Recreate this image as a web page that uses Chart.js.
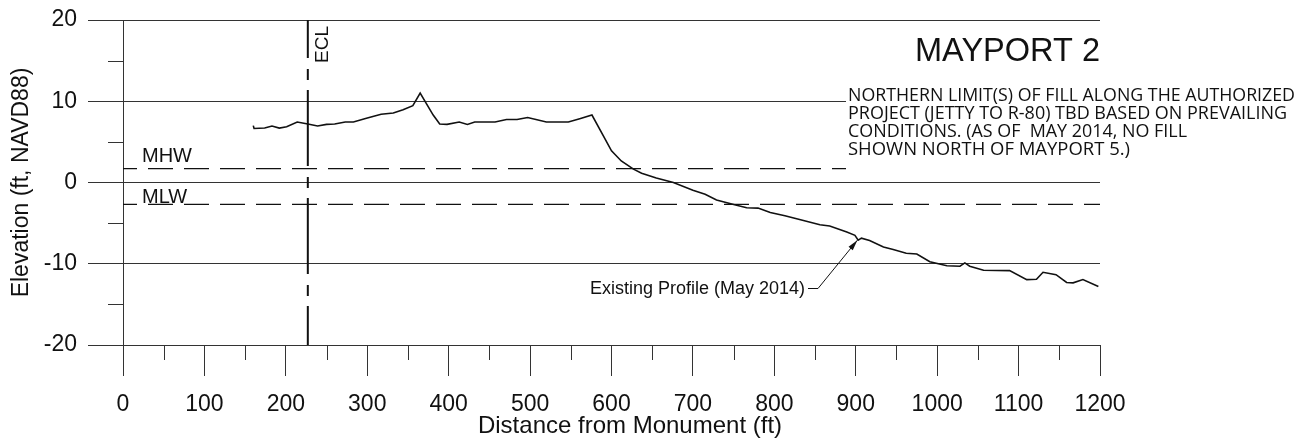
<!DOCTYPE html>
<html>
<head>
<meta charset="utf-8">
<title>Mayport 2</title>
<script src="https://cdn.jsdelivr.net/npm/chart.js@4.4.0/dist/chart.umd.min.js"></script>
<style>
  html, body { margin: 0; padding: 0; background: #fff; }
  #wrap { width: 1312px; height: 447px; }
</style>
</head>
<body>
<div id="wrap"><canvas id="profileChart" width="1312" height="447"></canvas></div>
<script>
// profile (May 2014)
const distance = [160, 161, 174, 183, 192, 201, 214, 227, 239, 250, 260, 273, 283, 299, 317, 332, 344, 356, 365, 373, 381, 389,
  398, 413, 423, 432, 457, 471, 484, 497, 520, 547, 561, 576, 590, 600, 612, 627, 637, 655, 676, 700, 715, 729, 750,
  766, 780, 795, 813, 831, 856, 868, 889, 899, 903, 907, 917, 934, 946, 962, 975, 991, 1012, 1028, 1034, 1040, 1057,
  1089, 1110, 1122, 1130, 1146, 1159, 1167, 1179, 1198];
const elevation = [7.0, 6.65, 6.7, 6.95, 6.7, 6.85, 7.45, 7.2, 6.95, 7.15, 7.2, 7.45, 7.45, 7.9, 8.4, 8.55, 8.95, 9.45, 11.0, 9.65, 8.3, 7.2,
  7.15, 7.45, 7.15, 7.45, 7.45, 7.75, 7.75, 8.0, 7.45, 7.45, 7.85, 8.3, 5.75, 3.9, 2.65, 1.65, 1.15, 0.55, 0.0, -0.95, -1.45, -2.15, -2.7,
  -3.1, -3.15, -3.7, -4.1, -4.55, -5.2, -5.35, -6.1, -6.5, -7.1, -6.85, -7.15, -7.95, -8.25, -8.7, -8.8, -9.75, -10.25, -10.3, -9.9, -10.3, -10.8,
  -10.85, -11.95, -11.9, -11.05, -11.35, -12.3, -12.35, -11.95, -12.8];

const MHW = 1.7;
const MLW = -2.7;
const ECL = 227;

const xTicksMinor = [50, 150, 250, 350, 450, 550, 650, 750, 850, 950, 1050, 1150];
const yTicksMinor = [15, 5, -5, -15];

const noteLines = [
  'NORTHERN LIMIT(S) OF FILL ALONG THE AUTHORIZED',
  'PROJECT (JETTY TO R-80) TBD BASED ON PREVAILING',
  'CONDITIONS. (AS OF  MAY 2014, NO FILL',
  'SHOWN NORTH OF MAYPORT 5.)'
];
const noteWidths = [447, 439, 339, 282];

const ARIAL = '"Liberation Sans", Arial, sans-serif';
const INK = '#111';
const GRID = '#333';

const profile = distance.map((d, i) => ({ x: d, y: elevation[i] }));

const annotations = {
  id: 'annotations',
  afterDatasetsDraw(chart) {
    const ctx = chart.ctx;
    const xs = chart.scales.x, ys = chart.scales.y;
    const area = chart.chartArea;
    ctx.save();

    // minor ticks
    ctx.strokeStyle = GRID;
    ctx.lineWidth = 1;
    ctx.beginPath();
    yTicksMinor.forEach(v => {
      const py = Math.round(ys.getPixelForValue(v)) + 0.5;
      ctx.moveTo(area.left - 15, py);
      ctx.lineTo(area.left, py);
    });
    xTicksMinor.forEach(v => {
      const px = Math.round(xs.getPixelForValue(v)) + 0.5;
      ctx.moveTo(px, area.bottom);
      ctx.lineTo(px, area.bottom + 15);
    });
    ctx.stroke();

    // note box hides the lines behind it
    ctx.fillStyle = '#fff';
    ctx.fillRect(846, 84, 1312 - 846, 90);

    ctx.fillStyle = INK;
    ctx.textBaseline = 'alphabetic';

    // title
    ctx.font = '34px ' + ARIAL;
    ctx.textAlign = 'right';
    ctx.fillText('MAYPORT 2', 1100, 61, 185);

    // note
    ctx.textAlign = 'left';
    ctx.font = '18.5px "Open Sans", sans-serif';
    noteLines.forEach((t, i) => {
      ctx.fillText(t, 848, 100.5 + i * 18.2, noteWidths[i]);
    });

    // tide labels
    ctx.font = '20px ' + ARIAL;
    ctx.fillText('MHW', 142, 162);
    ctx.fillText('MLW', 142, 202.5);

    // ECL label
    ctx.save();
    ctx.translate(xs.getPixelForValue(ECL) + 20, 63);
    ctx.rotate(-Math.PI / 2);
    ctx.font = '19px ' + ARIAL;
    ctx.fillText('ECL', 0, 0);
    ctx.restore();

    // profile callout
    ctx.font = '18px ' + ARIAL;
    ctx.fillText('Existing Profile (May 2014)', 590, 293.5, 215);
    const tipX = xs.getPixelForValue(902), tipY = ys.getPixelForValue(-7.1);
    ctx.strokeStyle = INK;
    ctx.lineWidth = 1;
    ctx.beginPath();
    ctx.moveTo(808, 288.5);
    ctx.lineTo(818, 288.5);
    ctx.lineTo(tipX, tipY);
    ctx.stroke();
    const ang = Math.atan2(tipY - 288.5, tipX - 818);
    ctx.beginPath();
    ctx.moveTo(tipX, tipY);
    ctx.lineTo(tipX - 11 * Math.cos(ang - 0.25), tipY - 11 * Math.sin(ang - 0.25));
    ctx.lineTo(tipX - 11 * Math.cos(ang + 0.25), tipY - 11 * Math.sin(ang + 0.25));
    ctx.closePath();
    ctx.fill();

    // x axis title
    ctx.font = '24px ' + ARIAL;
    ctx.textAlign = 'center';
    ctx.fillText('Distance from Monument (ft)', 630, 433);

    ctx.restore();
  }
};

new Chart(document.getElementById('profileChart').getContext('2d'), {
  type: 'line',
  data: {
    datasets: [
      { label: 'Existing Profile (May 2014)', data: profile, borderColor: INK, borderWidth: 1.6, pointRadius: 0, tension: 0 },
      { label: 'MHW', data: [{ x: 0, y: MHW }, { x: 1200, y: MHW }], borderColor: INK, borderWidth: 1.2,
        borderDash: [25, 11], borderDashOffset: 11, pointRadius: 0 },
      { label: 'MLW', data: [{ x: 0, y: MLW }, { x: 1200, y: MLW }], borderColor: INK, borderWidth: 1.2,
        borderDash: [25, 11], borderDashOffset: 11, pointRadius: 0 },
      { label: 'ECL', data: [{ x: ECL, y: 20 }, { x: ECL, y: -20 }], borderColor: INK, borderWidth: 2,
        borderDash: [76, 11, 11, 10], borderDashOffset: 38, pointRadius: 0 }
    ]
  },
  options: {
    responsive: false,
    animation: false,
    layout: { padding: { top: 20, right: 212, left: 0, bottom: 0 } },
    plugins: { legend: { display: false }, tooltip: { enabled: false } },
    scales: {
      x: {
        type: 'linear',
        min: 0,
        max: 1200,
        afterFit: s => { s.height = 102; s.paddingLeft = 0; s.paddingRight = 0; },
        ticks: { stepSize: 100, color: INK, padding: 15, maxRotation: 0, font: { family: ARIAL, size: 23 },
          callback: v => String(v) },
        grid: { drawOnChartArea: false, tickLength: 31, tickColor: GRID, tickWidth: 1 },
        border: { display: true, color: GRID, width: 1 }
      },
      y: {
        min: -20,
        max: 20,
        afterFit: s => { s.width = 123; s.paddingTop = 0; s.paddingBottom = 0; },
        ticks: { stepSize: 10, color: INK, padding: 11, font: { family: ARIAL, size: 23 } },
        grid: { color: GRID, lineWidth: 1, tickLength: 35, tickColor: GRID },
        border: { display: true, color: GRID, width: 1 },
        title: { display: true, text: 'Elevation (ft, NAVD88)', color: INK, font: { family: ARIAL, size: 23 },
          padding: { top: 8, bottom: 0 } }
      }
    }
  },
  plugins: [annotations]
});
</script>
</body>
</html>
